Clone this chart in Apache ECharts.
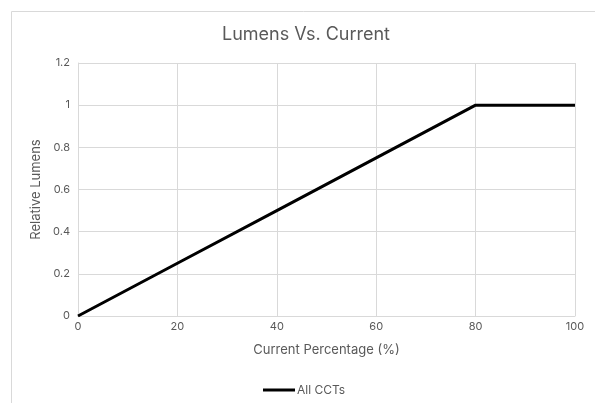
<!DOCTYPE html>
<html>
<head>
<meta charset="utf-8">
<script src="https://cdn.jsdelivr.net/npm/echarts@6/dist/echarts.min.js"></script>
<style>
html,body{margin:0;padding:0;background:#fff;}
#c{width:595px;height:403px;}
</style>
</head>
<body>
<div id="c"></div>
<script>
const xValues = [0, 20, 40, 60, 80, 100];
const yValues = [0, 0.25, 0.5, 0.75, 1, 1];
const seriesName = 'All CCTs';

const chart = echarts.init(document.getElementById('c'), null, {renderer: 'canvas'});
const txt = '#595959';
const grid = '#d9d9d9';
const font = 'Inter';
chart.setOption({
  animation: false,
  textStyle: {fontFamily: font},
  graphic: [{
    type: 'rect', left: 9, top: 9, silent: true,
    shape: {width: 620, height: 420},
    style: {fill: 'none', stroke: grid, lineWidth: 1}
  }],
  title: {
    text: 'Lumens Vs. Current', left: 217, top: 21,
    textStyle: {fontSize: 18, fontWeight: 'normal', color: txt, fontFamily: font}
  },
  legend: {
    bottom: 2, left: 258, itemWidth: 32, itemHeight: 3, itemGap: 4,
    icon: 'rect',
    textStyle: {fontSize: 12, color: txt, fontFamily: font, padding: [0,0,0,-3]},
    data: [seriesName]
  },
  grid: {left: 78, right: 20, top: 63, bottom: 87},
  xAxis: {
    type: 'value', min: 0, max: 100, interval: 20,
    name: 'Current Percentage (%)', nameLocation: 'middle', nameGap: 28,
    nameTextStyle: {fontSize: 13, color: txt, fontFamily: font},
    axisLine: {show: true, lineStyle: {color: grid, width: 1}},
    axisTick: {show: false},
    axisLabel: {fontSize: 11, color: txt, margin: 5, fontFamily: font},
    splitLine: {show: true, lineStyle: {color: grid, width: 1}}
  },
  yAxis: {
    type: 'value', min: 0, max: 1.2, interval: 0.2,
    name: 'Relative Lumens', nameLocation: 'middle', nameGap: 34,
    nameTextStyle: {fontSize: 13, color: txt, fontFamily: font},
    axisLine: {show: true, lineStyle: {color: grid, width: 1}},
    axisTick: {show: false},
    axisLabel: {fontSize: 11, color: txt, margin: 8, fontFamily: font},
    splitLine: {show: true, lineStyle: {color: grid, width: 1}}
  },
  series: [{
    name: seriesName, type: 'line',
    data: xValues.map((x, i) => [x, yValues[i]]),
    showSymbol: false, symbol: 'none',
    lineStyle: {color: '#000', width: 3},
    itemStyle: {color: '#000'}
  }]
});
</script>
</body>
</html>
